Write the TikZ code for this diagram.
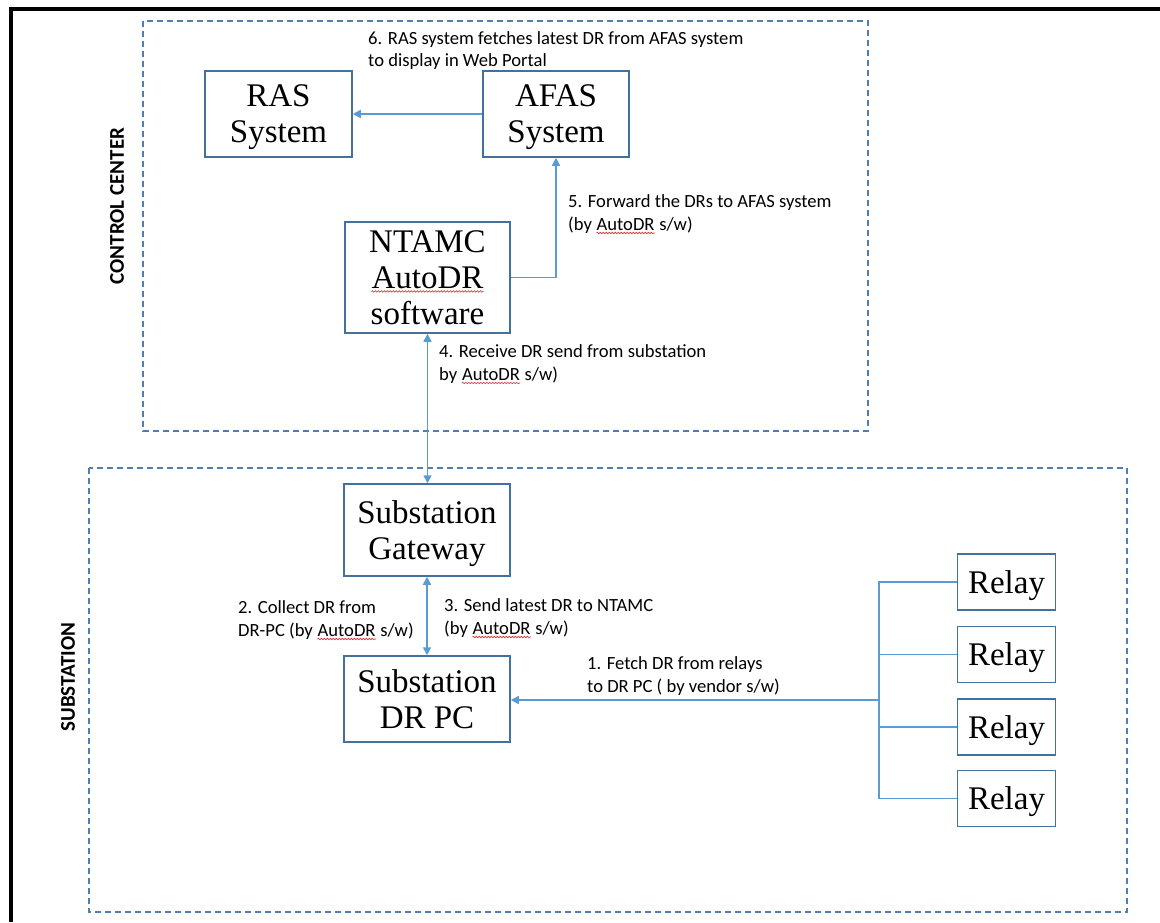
\documentclass[tikz,border=0pt]{standalone}
\usepackage{fontspec}
\setmainfont{Liberation Serif}
\newfontfamily\lblfont{Carlito}
\usetikzlibrary{arrows.meta,decorations.pathmorphing}
\definecolor{boxblue}{HTML}{41719C}
\definecolor{lineblue}{HTML}{5B9BD5}
\definecolor{dashblue}{HTML}{4F7FB0}
\definecolor{squigred}{HTML}{E03030}
\newcommand\sqw[1]{\tikz[baseline=(w.base)]{\node[inner sep=0pt,anchor=base,draw=none,minimum width=0pt,minimum height=0pt,text depth=] (w) {#1};
  \draw[squigred,line width=0.6pt,decorate,decoration={snake,amplitude=0.8pt,segment length=3pt}] ([yshift=-3pt]w.base west) -- ([yshift=-3pt]w.base east);}}
\begin{document}
\begin{tikzpicture}[x=1pt,y=-1pt,
  sysbox/.style={draw=boxblue,line width=1.5pt,align=center,inner sep=0pt,text depth=0pt,font=\fontsize{33}{36}\selectfont},
  lbl/.style={anchor=base west,align=left,inner sep=0pt,font=\lblfont\fontsize{18.6}{22.7}\selectfont},
  conn/.style={draw=lineblue,line width=1.6pt},
  tip/.style={-{Triangle[length=8pt,width=8pt]}},
  both/.style={{Triangle[length=8pt,width=8pt]}-{Triangle[length=8pt,width=8pt]}},
  region/.style={draw=dashblue,line width=1.2pt,dash pattern=on 6pt off 4pt},
  side/.style={font=\lblfont\bfseries\fontsize{21}{24}\selectfont,rotate=90,inner sep=0pt}]
\useasboundingbox (0,0) rectangle (1160,922);
\fill[white] (0,0) rectangle (1160,922);
% outer black frame
\draw[black,line width=4pt] (11,922) -- (11,9) -- (1160,9);
% regions
\draw[region] (143,21) rectangle (868,431);
\draw[region] (89,468) rectangle (1127,912);
\node[side] (cc) at (117,206) {CONTROL CENTER};
\node[side] (ss) at (68,677) {SUBSTATION};
% boxes
\node[sysbox,minimum width=147pt,minimum height=86pt] (ras) at (278.5,114) {RAS\\System};
\node[sysbox,minimum width=146pt,minimum height=86pt] (afas) at (556,114) {AFAS\\System};
\node[sysbox,minimum width=165pt,minimum height=111pt] (ntamc) at (427.5,277.5) {NTAMC\\\sqw{AutoDR}\\software};
\node[sysbox,minimum width=166pt,minimum height=92pt] (gw) at (427,530) {Substation\\Gateway};
\node[sysbox,minimum width=166pt,minimum height=86pt] (drpc) at (427,699) {Substation\\DR PC};
\node[sysbox,minimum width=98pt,minimum height=56pt] (r1) at (1006.5,582) {Relay};
\node[sysbox,minimum width=98pt,minimum height=56pt] (r2) at (1006.5,654.5) {Relay};
\node[sysbox,minimum width=98pt,minimum height=56pt] (r3) at (1006.5,727) {Relay};
\node[sysbox,minimum width=98pt,minimum height=56pt] (r4) at (1006.5,798.5) {Relay};
% connectors
\draw[conn,tip] (afas.west) -- (ras.east);
\draw[conn,tip] (ntamc.east) -| (afas.south);
\draw[conn,both] (ntamc.south) -- (gw.north -| ntamc.south);
\draw[conn,both] (gw.south) -- (drpc.north);
\coordinate (bus) at (879,700);
\draw[conn] (r1.west) -| (bus);
\draw[conn] (r4.west) -| (bus);
\draw[conn] (r2.west) -- (r2.west -| bus);
\draw[conn] (r3.west) -- (r3.west -| bus);
\draw[conn,tip] (bus) -- (drpc.east |- bus);
% labels (anchor = baseline of the last line)
\node[lbl] (l6) at (368,66.7) {6. RAS system fetches latest DR from AFAS system\\to display in Web Portal};
\node[lbl] (l5) at (568,230) {5. Forward the DRs to AFAS system\\(by \sqw{AutoDR} s/w)};
\node[lbl] (l4) at (439,380) {4. Receive DR send from substation\\by \sqw{AutoDR} s/w)};
\node[lbl] (l2) at (238,636) {2. Collect DR from\\DR-PC (by \sqw{AutoDR} s/w)};
\node[lbl] (l3) at (444,634) {3. Send latest DR to NTAMC\\(by \sqw{AutoDR} s/w)};
\node[lbl] (l1) at (587,692) {1. Fetch DR from relays\\to DR PC ( by vendor s/w)};
\end{tikzpicture}
\end{document}
